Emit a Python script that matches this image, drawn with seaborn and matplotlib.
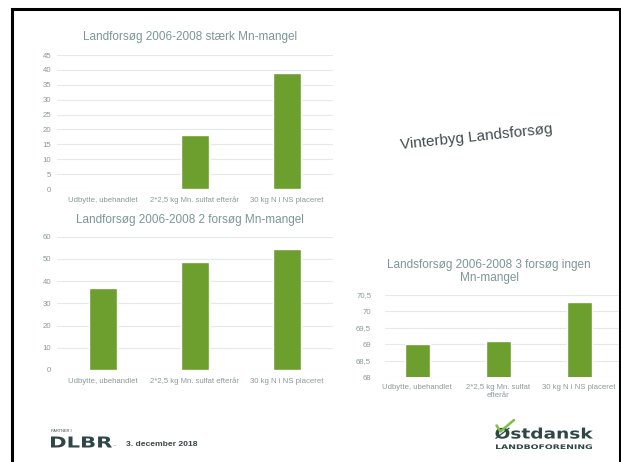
import matplotlib
matplotlib.use("Agg")
import matplotlib.pyplot as plt
import seaborn as sns
import numpy as np
from matplotlib.ticker import FuncFormatter
from matplotlib.lines import Line2D
from matplotlib.patches import Rectangle, PathPatch
from matplotlib.textpath import TextPath
from matplotlib.font_manager import FontProperties
from matplotlib.transforms import Affine2D, IdentityTransform

sns.set_theme(style="white")
plt.rcParams['font.family'] = ['Liberation Sans', 'DejaVu Sans']

# ---- data ----
categories = ["Udbytte, ubehandlet", "2*2,5 kg Mn. sulfat efterår", "30 kg N i NS placeret"]
categories_wrapped = ["Udbytte, ubehandlet", "2*2,5 kg Mn. sulfat\nefterår", "30 kg N i NS placeret"]
values_strong = [0.5, 18.2, 38.9]
values_two = [37.0, 48.7, 54.4]
values_none = [69.0, 69.1, 70.3]

title_strong = "Landforsøg 2006-2008 stærk Mn-mangel"
title_two = "Landforsøg 2006-2008 2 forsøg Mn-mangel"
title_none = "Landsforsøg 2006-2008 3 forsøg ingen\nMn-mangel"
slide_title = "Vinterbyg Landsforsøg"

W, H = 621, 462
fig = plt.figure(figsize=(W / 100, H / 100), dpi=100)
fig.patch.set_facecolor("white")

GREEN = "#6c9f2e"
GRID = "#e6e9e9"
TICKC = "#8c9999"
TITLEC = "#7d9595"
DARK = "#2f4646"


def px_axes(x0, x1, ytop, ybot):
    return fig.add_axes([x0 / W, 1 - ybot / H, (x1 - x0) / W, (ybot - ytop) / H])


def comma_fmt(v, pos):
    if abs(v - round(v)) < 1e-9:
        return f"{int(round(v))}"
    return f"{v:.1f}".replace(".", ",")


def style(ax, ylim, step, labels, xlim=(-0.5, 2.5), ypad=4, fs=5.6, baseline=True):
    ax.set_ylim(*ylim)
    ax.set_yticks(np.arange(ylim[0], ylim[1] + step / 2, step))
    ax.yaxis.set_major_formatter(FuncFormatter(comma_fmt))
    ax.grid(axis="y", color=GRID, linewidth=0.8)
    ax.set_axisbelow(True)
    for s in ax.spines.values():
        s.set_visible(False)
    ax.tick_params(axis="both", length=0, labelsize=fs, colors=TICKC)
    ax.tick_params(axis="y", pad=ypad)
    ax.tick_params(axis="x", pad=9.2 if baseline else 5)
    ax.set_xticks(range(len(labels)))
    ax.set_xticklabels(labels, fontsize=fs, color=TICKC, linespacing=1.15)
    if baseline:
        for t in ax.get_xticklabels():
            t.set_verticalalignment("baseline")
    ax.set_xlabel("")
    ax.set_ylabel("")
    ax.set_xlim(*xlim)


def fitted_text(s, x0, x1, ybase, cap_px, weight="bold", color=DARK, family="DejaVu Sans"):
    fp = FontProperties(family=family, weight=weight)
    tp = TextPath((0, 0), s, size=100, prop=fp)
    ref = TextPath((0, 0), "H", size=100, prop=fp)
    ext = tp.get_extents()
    cap = ref.get_extents().y1
    sy = cap_px / cap
    sx = (x1 - x0) / ext.width
    tr = Affine2D().translate(-ext.x0, 0).scale(sx, sy).translate(x0, H - ybase)
    patch = PathPatch(tr.transform_path(tp), facecolor=color, edgecolor="none",
                      transform=IdentityTransform())
    fig.add_artist(patch)


# top chart
ax1 = px_axes(57, 333, 55, 189)
sns.barplot(x=categories, y=values_strong, color=GREEN, width=0.31, ax=ax1, saturation=1)
style(ax1, (0, 45), 5, categories)
fig.text(190 / W, 1 - 37 / H, title_strong, ha="center", va="center", fontsize=8.5, color=TITLEC)

# middle chart
ax2 = px_axes(57, 333, 236.7, 370)
sns.barplot(x=categories, y=values_two, color=GREEN, width=0.31, ax=ax2, saturation=1)
style(ax2, (0, 60), 10, categories)
fig.text(190 / W, 1 - 220 / H, title_two, ha="center", va="center", fontsize=8.5, color=TITLEC)

# right chart
gx0 = 385.0
slot = 81.0
ax3 = px_axes(gx0, 619.5, 295, 377.3)
sns.barplot(x=categories, y=values_none, color=GREEN, width=0.31, ax=ax3, saturation=1)
style(ax3, (68, 70.5), 0.5, categories_wrapped,
      xlim=(-0.5 + (gx0 - 376.8) / slot, 2.5), ypad=10, baseline=False)
fig.text(489 / W, 1 - 271.5 / H, title_none, ha="center", va="center", fontsize=8.5,
         color=TITLEC, linespacing=1.05)

# slide title
fig.text(476 / W, 1 - 137 / H, slide_title, ha="center", va="center", fontsize=11.0,
         color="#3f4c4c", rotation=6)

# footer: DLBR
fig.text(51 / W, 1 - 431 / H, "PARTNER I", ha="left", va="center", fontsize=2.8, color="#3b4848")
fitted_text("DLBR", 51, 112, 447.5, 11)
fig.text(113 / W, 1 - 446 / H, ".", ha="left", va="baseline", fontsize=5, color=DARK)
fig.text(126 / W, 1 - 444.5 / H, "3. december 2018", ha="left", va="center", fontsize=6.1,
         fontweight="bold", color="#3b4848")

# footer: Østdansk
fitted_text("Østdansk", 495, 593, 438.5, 10.5)
fitted_text("LANDBOFORENING", 496, 592, 449, 4.6)
fig.add_artist(Line2D([496.5 / W, 500.5 / W, 514 / W],
                      [1 - 425.5 / H, 1 - 431.5 / H, 1 - 420 / H],
                      color="#7cc043", linewidth=1.8, solid_capstyle="round",
                      solid_joinstyle="round"))

# slide border
fig.add_artist(Rectangle((11.5 / W, -0.05), (619.5 - 11.5) / W, 1.05 - 8.5 / H,
                         fill=False, edgecolor="black", linewidth=2.2,
                         transform=fig.transFigure))

fig.savefig("out.png", dpi=100, facecolor="white")
